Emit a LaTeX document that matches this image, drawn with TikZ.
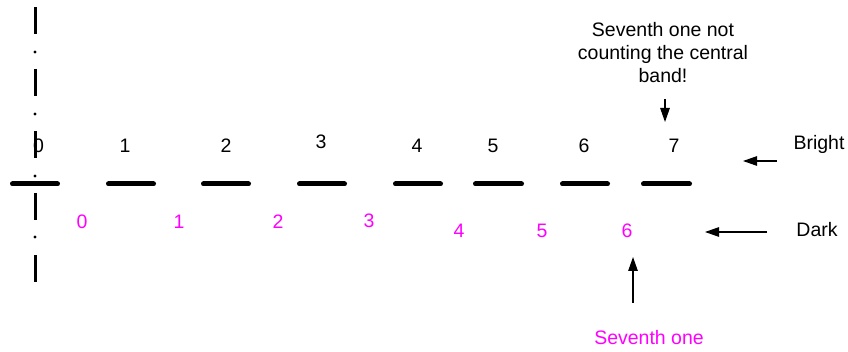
\documentclass[tikz,border=0pt]{standalone}
\usepackage{fontspec}
\setmainfont{Liberation Sans}
\usetikzlibrary{arrows.meta}
\definecolor{darkmag}{RGB}{255,0,255}
\tikzset{
  lbl/.style={font=\fontsize{19.5}{23}\selectfont, inner sep=0pt},
  brightnum/.style={lbl, anchor=base, text=black},
  darknum/.style={lbl, anchor=base, text=darkmag},
  band/.style={line width=5pt, line cap=round},
  pointer/.style={line width=1.2pt, -{Triangle[length=14pt,width=9.5pt]}},
  axisline/.style={line width=3pt, dash pattern=on 27.5pt off 34.5pt},
}
\begin{document}
\begin{tikzpicture}[x=1pt,y=-1pt]
\useasboundingbox (0,0) rectangle (848,352);

% bright fringe orders
\node[brightnum] (b0) at (38.5,153) {0};
\node[brightnum] (b1) at (125,153) {1};
\node[brightnum] (b2) at (226,153) {2};
\node[brightnum] (b3) at (321,149) {3};
\node[brightnum] (b4) at (417,153) {4};
\node[brightnum] (b5) at (493,153) {5};
\node[brightnum] (b6) at (584,153) {6};
\node[brightnum] (b7) at (674,153) {7};

% dark fringe orders
\node[darknum] (d0) at (82,229) {0};
\node[darknum] (d1) at (179,229) {1};
\node[darknum] (d2) at (278,229) {2};
\node[darknum] (d3) at (369,228) {3};
\node[darknum] (d4) at (459,238) {4};
\node[darknum] (d5) at (542,238) {5};
\node[darknum] (d6) at (627,238) {6};

% central axis (dash-dot)
\draw[axisline] (35,7) -- (35,283);
\foreach \yy in {52,114,176,237}
  \fill (35,\yy) circle (1.6pt);

% bright bands
\foreach \xa/\xb in {10/60,106/156,201/251,297/347,393/443,473/524,560/610,641/692}
  \draw[band] (\xa+2.5,184) -- (\xb-2.5,184);

% side labels
\node[brightnum] (brightlbl) at (819,150) {Bright};
\node[brightnum] (darklbl) at (817,237) {Dark};
\coordinate (brightTail) at (777,161);
\coordinate (brightTip) at (743,161);
\coordinate (darkTail) at (767,232);
\coordinate (darkTip) at (705,232);
\draw[pointer] (brightTail) -- (brightTip);
\draw[pointer] (darkTail) -- (darkTip);

% notes on the seventh fringes
\node[lbl, align=center] (noteTop) at (663,53) {Seventh one not\\counting the central\\band!};
\coordinate (topTail) at (665,99);
\coordinate (topTip) at (665,122);
\draw[pointer] (topTail) -- (topTip);

\node[lbl, text=darkmag] (noteBottom) at (649,338) {Seventh one};
\coordinate (botTail) at (633,303);
\coordinate (botTip) at (633,257);
\draw[pointer] (botTail) -- (botTip);
\end{tikzpicture}
\end{document}
